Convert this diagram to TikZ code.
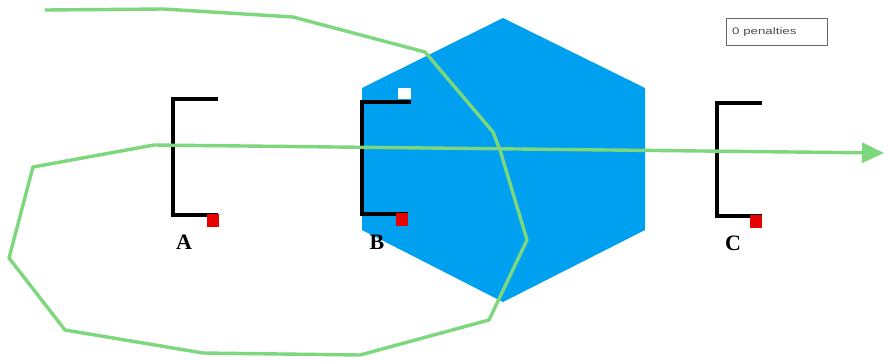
\documentclass[tikz,border=0pt]{standalone}
\usepackage{fontspec}
\usepackage{graphicx}
\setmainfont{Liberation Serif}
\newfontfamily\penfont{Liberation Sans}
\usetikzlibrary{arrows.meta}
\definecolor{hexblue}{RGB}{0,160,240}
\definecolor{pathgreen}{RGB}{125,215,125}
\definecolor{marker}{RGB}{230,0,0}
\tikzset{
  bracket/.style={draw=black,line width=3.2pt},
  lbl/.style={font=\bfseries\fontsize{22}{22}\selectfont,inner sep=0pt},
  redsq/.style={fill=marker},
  route/.style={draw=pathgreen,line width=3.4pt,line join=round}
}
\begin{document}
\begin{tikzpicture}[x=1pt,y=-1pt]
\useasboundingbox (0,0) rectangle (884,360);
\fill[white] (0,0) rectangle (884,360);
% hexagon
\fill[hexblue] (503,18) -- (645,88) -- (645,230) -- (503,302) -- (362,230) -- (362,88) -- cycle;
% brackets
\draw[bracket] (218,99) -- (173,99) -- (173,215) -- (218,215);
\draw[bracket] (411,102) -- (362,102) -- (362,214) -- (408,214);
\draw[bracket] (762,103) -- (717,103) -- (717,216) -- (762,216);
% markers
\fill[redsq] (207,214) rectangle (219,227);
\fill[redsq] (396,213) rectangle (408,226);
\fill[redsq] (750,215) rectangle (762,228);
\fill[white] (398,88) rectangle (411,99);
% labels
\node[lbl] (la) at (184,242) {A};
\node[lbl] (lb) at (377,242) {B};
\node[lbl] (lc) at (733,243) {C};
% green route
\draw[route,-{Triangle[length=22pt,width=20pt]}]
  (45,10) -- (163,9) -- (293,17) -- (425,52) -- (493,132) -- (500,150)
  -- (527,240) -- (489,320) -- (360,355) -- (203,353) -- (65,330)
  -- (9,258) -- (33,167) -- (154,145) -- (884,153);
% penalties box
\node[draw=black!60,line width=0.8pt,minimum width=101pt,minimum height=27pt,inner sep=0pt] (pen) at (776.5,31.5) {};
\node[anchor=west,inner sep=0pt,font=\penfont\fontsize{9.5}{9.5}\selectfont,text=black!70] (pentext) at (732,32) {\scalebox{1.4}[1]{0 penalties}};
\end{tikzpicture}
\end{document}
